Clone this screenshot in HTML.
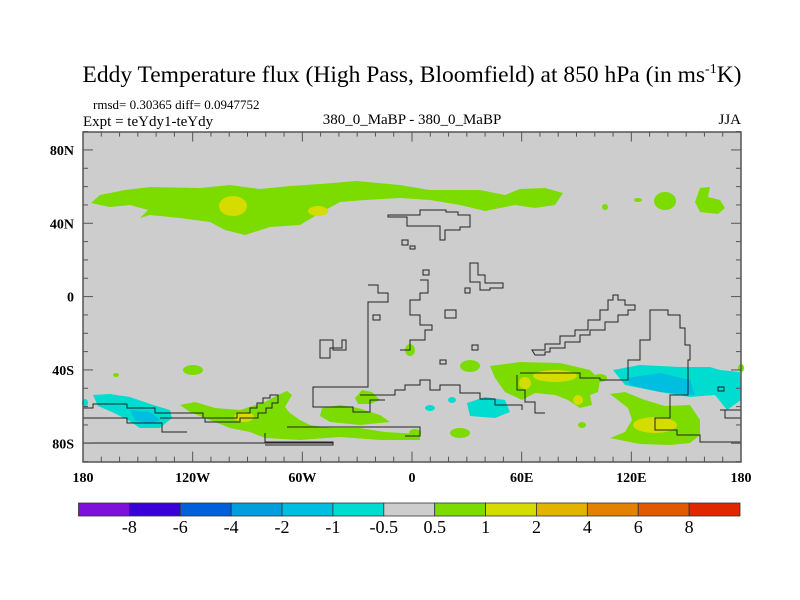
<!DOCTYPE html>
<html><head><meta charset="utf-8"><style>
html,body{margin:0;padding:0;background:#fff;}
svg{display:block;font-family:"Liberation Serif",serif;}
</style></head><body>
<svg id="chart" width="800" height="600" viewBox="0 0 800 600" xmlns="http://www.w3.org/2000/svg">
<text x="412" y="82" font-size="23.5" text-anchor="middle">Eddy Temperature flux (High Pass, Bloomfield) at 850 hPa (in ms<tspan font-size="14" dy="-9">-1</tspan><tspan dy="9">K)</tspan></text>
<text x="93" y="109" font-size="13">rmsd= 0.30365 diff= 0.0947752</text>
<text x="83" y="126" font-size="15">Expt = teYdy1-teYdy</text>
<text x="412" y="124" font-size="15" text-anchor="middle">380_0_MaBP - 380_0_MaBP</text>
<text x="741" y="124" font-size="15" text-anchor="end">JJA</text>
<g>
<rect x="83" y="132" width="658" height="330" fill="#cdcdcd"/>
<g fill="#7cdc00">
<path d="M91,203 L100,195 L125,190 L150,187 L200,188 L230,185 L260,189 L290,186 L320,184 L357,181 L400,185 L430,190 L480,190 L505,195 L520,189 L545,188 L563,193 L555,205 L535,208 L515,205 L500,208 L485,211 L460,205 L430,200 L400,198 L365,200 L340,202 L320,213 L300,225 L270,227 L245,235 L225,230 L210,222 L180,218 L150,215 L140,218 L148,210 L130,205 L110,207 Z"/>
<ellipse cx="605" cy="207" rx="3" ry="3"/><ellipse cx="638" cy="200" rx="4" ry="2"/>
<ellipse cx="665" cy="201" rx="11" ry="9"/>
<path d="M700,188 L710,187 L708,197 L720,200 L725,208 L718,214 L700,212 L695,202 Z"/>
<ellipse cx="193" cy="370" rx="10" ry="5"/><ellipse cx="116" cy="375" rx="3" ry="2"/>
<path d="M180,405 L195,402 L215,408 L240,410 L265,402 L278,395 L287,391 L292,395 L285,407 L290,413 L300,420 L310,425 L330,428 L360,428 L385,432 L420,434 L420,440 L380,440 L340,437 L300,440 L265,438 L250,432 L230,428 L205,418 L190,412 Z"/>
<path d="M322,408 L340,405 L358,408 L380,415 L390,422 L360,425 L330,422 L320,416 Z"/>
<path d="M355,398 L362,390 L372,392 L380,400 L370,404 L358,404 Z"/>
<ellipse cx="410" cy="350" rx="5" ry="6"/>
<ellipse cx="470" cy="366" rx="10" ry="6"/>
<path d="M490,366 L520,362 L560,363 L590,370 L600,380 L598,392 L590,395 L592,405 L580,408 L568,400 L555,395 L535,393 L522,400 L505,392 L495,378 Z"/>
<ellipse cx="600" cy="378" rx="7" ry="4"/>
<path d="M610,394 L625,392 L645,400 L665,406 L690,405 L700,420 L700,435 L690,443 L670,445 L640,444 L610,438 L625,432 L632,420 L628,408 Z"/>
<ellipse cx="460" cy="433" rx="10" ry="5"/><ellipse cx="415" cy="433" rx="6" ry="4"/><ellipse cx="582" cy="425" rx="4" ry="3"/>
<ellipse cx="741" cy="368" rx="3" ry="4"/>
</g>
<g fill="#d4dc00">
<ellipse cx="233" cy="206" rx="14" ry="10"/><ellipse cx="318" cy="211" rx="10" ry="5"/>
<ellipse cx="244" cy="417" rx="10" ry="5"/>
<ellipse cx="555" cy="376" rx="22" ry="6"/><ellipse cx="525" cy="383" rx="6" ry="6"/><ellipse cx="578" cy="400" rx="5" ry="5"/>
<ellipse cx="655" cy="425" rx="22" ry="8"/>
</g>
<g>
<path fill="#00dcd0" d="M93,395 L110,394 L130,397 L150,404 L170,410 L172,418 L160,428 L140,428 L128,420 L112,412 L98,406 Z"/>
<path fill="#00bee0" d="M130,410 L150,412 L160,420 L150,424 L135,420 Z"/>
<path fill="#00dcd0" d="M613,370 L640,365 L680,367 L710,367 L720,370 L740,372 L741,400 L727,410 L715,395 L690,397 L660,392 L625,385 Z"/>
<path fill="#00bee0" d="M627,378 L660,373 L690,380 L695,395 L660,392 L630,385 Z"/>
<path fill="#00dcd0" d="M467,403 L485,397 L505,400 L510,412 L495,418 L470,416 Z"/>
<ellipse cx="452" cy="400" rx="4" ry="3" fill="#00dcd0"/><ellipse cx="430" cy="408" rx="5" ry="3" fill="#00dcd0"/>
<ellipse cx="85" cy="403" rx="3" ry="4" fill="#00dcd0"/>
</g>
<g fill="none" stroke="#222" stroke-width="1">
<path d="M83,408 H93 V404 H127 V408 H155 V413 H203 V418 H237 V413 H250 V408 H257 V403 H263 V398 H270 V395 H278 V403 H272 V408 H266 V413 H258 V418 H240 V422 H205 V418 H160"/>
<path d="M83,418 H127 V423 H162 V432 H187"/>
<path d="M265,433 V442 H333 V445 H265"/>
<path d="M287,427 H420 V436 H405"/>
<path d="M83,443 H333"/>
<path d="M368,285 H378 V293 H388 V302 H368 V387 H313 V407 H353 V412 H370 V400 H385"/>
<path d="M360,395 H395 V390 H405 V385 H420 V380 H430 V390 H440 V385 H460 V393 H480 V399 H495 V405 H522 V410"/>
<path d="M388,217 H407 V226 H440 V240 H445 V230 H460 V227 H470 V215 H458 V212 H446 V210 H420 V215 H388 Z"/>
<path d="M402,240 H408 V245 H402 Z M410,246 H415 V249 H410 Z"/>
<path d="M320,340 H333 V350 H346 V340 H342 V348 H330 V358 H320 Z"/>
<path d="M373,315 H380 V320 H373 Z"/>
<path d="M420,280 H428 V293 H420 V300 H410 V315 H420 V325 H432 V330 H425 V340 H410 V350 H400"/>
<path d="M470,263 H478 V275 H485 V283 H503 V288 H490 V290 H480 V282 H470 Z"/>
<path d="M423,270 H429 V275 H423 Z M465,288 H470 V293 H465 Z M445,310 H456 V318 H445 Z M472,345 H478 V350 H472 Z M440,360 H446 V364 H440 Z"/>
<path d="M532,350 H545 V344 H560 V336 H575 V330 H588 V320 H600 V310 H608 V300 H613 V295 H618 V300 H625 V305 H635 V310 H628 V315 H618 V322 H605 V330 H590 V335 H580 V342 H565 V348 H550 V352 H545 V355 H535 Z"/>
<path d="M520,373 H580 V378 H600 V380 H628 V360 H640 V340 H650 V310 H668 V315 H680 V328 H685 V345 H690 V360 H688 V395 H670 V418 H655 V430 H677 V435 H700 V442 H741"/>
<path d="M517,375 V390 H525 V402 H535 V413 H545"/>
<path d="M720,410 H741 M725,410 V418 H741"/>
<path d="M718,387 H724 V391 H718 Z"/>
</g>
<rect x="83" y="132" width="658" height="330" fill="none" stroke="#555" stroke-width="1.5"/>
<g id="ticks" stroke="#555" stroke-width="1"></g>
<g id="ylabels" font-size="14" font-weight="bold" text-anchor="end"></g>
<g id="xlabels" font-size="14" font-weight="bold" text-anchor="middle"></g>
</g>
<g id="colorbar"></g>
</svg>
<script>
const levelLabels = ["-8","-6","-4","-2","-1","-0.5","0.5","1","2","4","6","8"];
const levelColors = ["#7f10dc","#3a00d8","#0060dc","#009edc","#00bee0","#00dcd0","#cdcdcd","#7cdc00","#d4dc00","#e2b400","#e28200","#e25a00","#e02800"];
const latTicks = [80,40,0,-40,-80];
const latTickLabels = ["80N","40N","0","40S","80S"];
const lonTicks = [-180,-120,-60,0,60,120,180];
const lonTickLabels = ["180","120W","60W","0","60E","120E","180"];
const NS="http://www.w3.org/2000/svg";
const X0=83,X1=741,Y0=131.6,Y1=461.6;
function xs(lon){return X0+(lon+180)/360*(X1-X0);}
function ys(lat){return Y0+(90-lat)/180*(Y1-Y0);}
function mk(tag,attrs,parent){const e=document.createElementNS(NS,tag);for(const k in attrs)e.setAttribute(k,attrs[k]);parent.appendChild(e);return e;}
const tk=document.getElementById('ticks');
for(let lat=-90;lat<=90;lat+=10){const major=lat%40===0;const y=ys(lat);
 const l=mk('line',{x1:X0,x2:X0+(major?10:5),y1:y,y2:y},tk);
 
 
 const r=mk('line',{x1:X1,x2:X1-(major?10:5),y1:y,y2:y},tk);
 
 }
for(let lon=-180;lon<=180;lon+=10){const major=lon%60===0;const x=xs(lon);
 const b=mk('line',{x1:x,x2:x,y1:Y1,y2:Y1-(major?10:5)},tk);
 
 
 const t=mk('line',{x1:x,x2:x,y1:Y0,y2:Y0+(major?10:5)},tk);
 
 }
const yl=document.getElementById('ylabels');
latTicks.forEach((v,i)=>{const t=mk('text',{x:74,y:ys(v)+5},yl);t.textContent=latTickLabels[i];
 
 });
const xl=document.getElementById('xlabels');
lonTicks.forEach((v,i)=>{const t=mk('text',{x:xs(v),y:482},xl);t.textContent=lonTickLabels[i];
 
 });
const cb=document.getElementById('colorbar');
const cbX0=78.5,cbX1=740,cbY=503,cbH=13;const w=(cbX1-cbX0)/levelColors.length;
levelColors.forEach((c,i)=>{const r=mk('rect',{x:cbX0+i*w,y:cbY,width:w,height:cbH,fill:c,stroke:'#333','stroke-width':0.8},cb);
 
 });
levelLabels.forEach((s,i)=>{const t=mk('text',{x:cbX0+(i+1)*w,y:533,'font-size':18,'text-anchor':'middle'},cb);t.textContent=s;
 
 });
</script>
</body></html>
